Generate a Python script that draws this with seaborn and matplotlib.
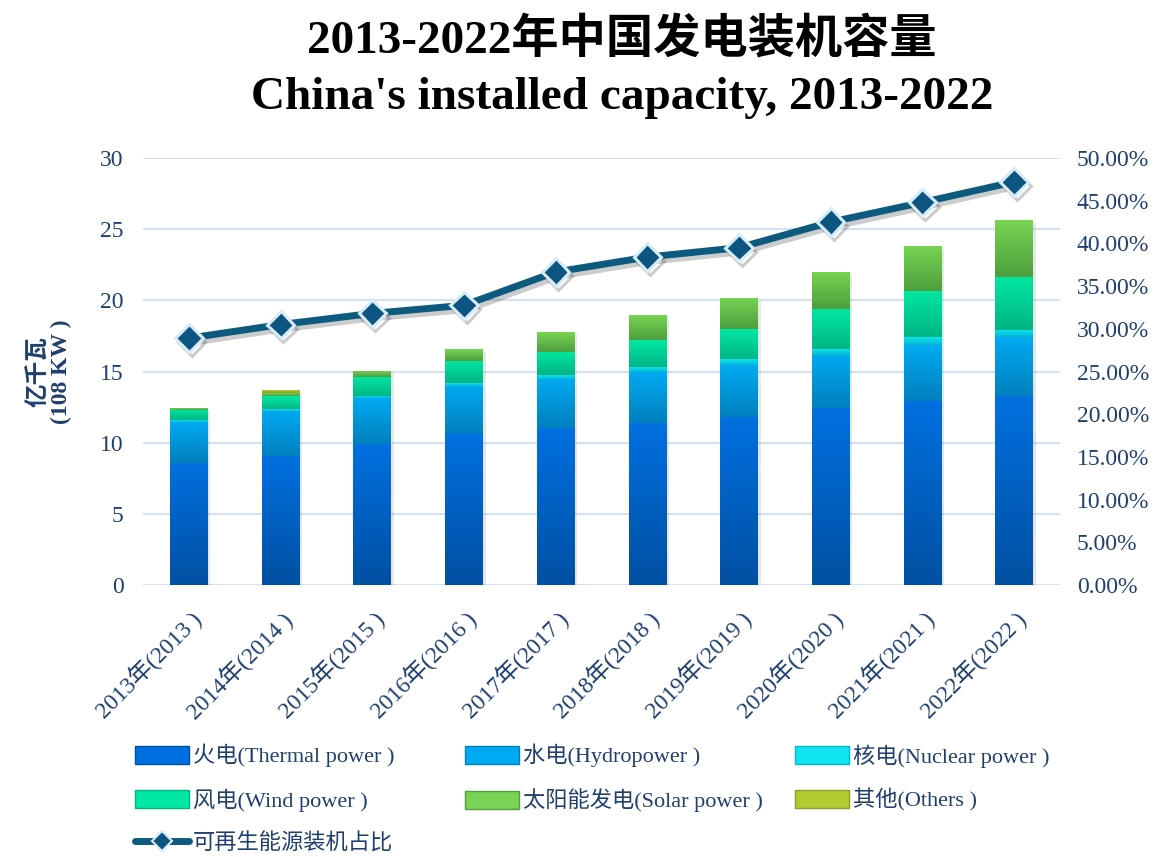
import numpy as np
import pandas as pd
import matplotlib
matplotlib.use("Agg")
import matplotlib.pyplot as plt
import matplotlib.patheffects as pe
from matplotlib.colors import LinearSegmentedColormap
from matplotlib.patches import Patch
from matplotlib.lines import Line2D
import seaborn as sns

# ---------------- data ----------------
categories = ["2013年(2013 )", "2014年(2014 )", "2015年(2015 )", "2016年(2016 )",
              "2017年(2017 )", "2018年(2018 )", "2019年(2019 )", "2020年(2020 )",
              "2021年(2021 )", "2022年(2022 )"]
thermal = [8.60, 9.09, 9.89, 10.59, 11.01, 11.41, 11.83, 12.42, 12.95, 13.28]
hydro = [2.88, 3.14, 3.23, 3.39, 3.47, 3.58, 3.65, 3.74, 3.92, 4.13]
nuclear = [0.12, 0.14, 0.16, 0.19, 0.28, 0.35, 0.42, 0.42, 0.54, 0.51]
wind = [0.72, 0.91, 1.34, 1.57, 1.64, 1.88, 2.07, 2.79, 3.27, 3.75]
solar = [0.14, 0.19, 0.44, 0.82, 1.40, 1.75, 2.18, 2.60, 3.12, 3.98]
others = [0.00, 0.21, 0.00, 0.00, 0.00, 0.00, 0.00, 0.00, 0.00, 0.00]
renew_share = [28.9, 30.5, 31.8, 32.75, 36.65, 38.4, 39.5, 42.5, 44.8, 47.2]

series_names = ["火电(Thermal power )", "水电(Hydropower )", "核电(Nuclear power )",
                "风电(Wind power )", "太阳能发电(Solar power )", "其他(Others )"]
line_name = "可再生能源装机占比"
title_cn = "2013-2022年中国发电装机容量"
title_en = "China's installed capacity, 2013-2022"
ylabel_text = "亿千瓦\n(108 KW )"
left_ticks = [0, 5, 10, 15, 20, 25, 30]
right_ticks = [0, 5, 10, 15, 20, 25, 30, 35, 40, 45, 50]

# ---------------- style ----------------
sns.set_theme(style="white")
plt.rcParams["font.family"] = ["Liberation Serif", "Noto Sans CJK SC", "DejaVu Sans"]
TXT = "#1F3F6E"

# gradient colours (top, bottom)
grads = [("#0070E0", "#0050A2"),
         ("#00AAF2", "#0080BE"),
         ("#10E4F0", "#00B8D0"),
         ("#00E8A2", "#00B484"),
         ("#78D452", "#4E9E3E"),
         ("#B0CC30", "#8AA028")]

layers = [thermal, hydro, nuclear, wind, solar, others]

fig = plt.figure(figsize=(11.53, 8.57), dpi=100)
ax = fig.add_axes([143 / 1153, 1 - 585 / 857, (1060 - 143) / 1153, (585 - 158) / 857])

df = pd.DataFrame({"cat": categories})
bottom = np.zeros(len(categories))
layer_patches = []
for vals, (ctop, cbot) in zip(layers, grads):
    df["v"] = vals
    n_before = len(ax.patches)
    sns.barplot(data=df, x="cat", y="v", ax=ax, color=cbot, width=0.41,
                bottom=bottom.copy(), errorbar=None, linewidth=0, zorder=3,
                saturation=1)
    layer_patches.append(ax.patches[n_before:])
    bottom = bottom + np.array(vals)

ax.set_xlim(-0.5, len(categories) - 0.5)
ax.set_ylim(0, 30)

# gradient fill clipped to each bar
for patches, (ctop, cbot) in zip(layer_patches, grads):
    cmap = LinearSegmentedColormap.from_list("g", [cbot, ctop])
    grad = np.linspace(0, 1, 100).reshape(-1, 1)
    for p in patches:
        x0, y0 = p.get_x(), p.get_y()
        w, h = p.get_width(), p.get_height()
        if h <= 0:
            continue
        im = ax.imshow(grad, extent=(x0, x0 + w, y0, y0 + h), origin="lower",
                       cmap=cmap, aspect="auto", zorder=3.5, interpolation="bicubic")
        im.set_clip_path(p)
        p.set_path_effects([pe.SimplePatchShadow(offset=(2, -2), alpha=0.1), pe.Normal()])

ax.set_xlim(-0.5, len(categories) - 0.5)
ax.set_ylim(0, 30)
ax.set_yticks(left_ticks)
ax.grid(axis="y", color="#D3E2F2", linewidth=1.5, zorder=0)
ax.grid(axis="x", visible=False)
for s in ax.spines.values():
    s.set_visible(False)
ax.set_xlabel("")
ax.set_ylabel("")
ax.tick_params(axis="y", labelsize=17, labelcolor=TXT, length=0, pad=14)
ax.tick_params(axis="x", length=0, pad=16)

# y-axis title
fig.text(50 / 1153, 1 - 372 / 857, ylabel_text, rotation=90, ha="center", va="center",
         fontsize=17, fontweight="bold", color=TXT, linespacing=1.0,
         multialignment="center")

# line on secondary axis
ax2 = ax.twinx()
ldf = pd.DataFrame({"cat": categories, "share": renew_share})
sns.pointplot(data=ldf, x="cat", y="share", ax=ax2, color="#0C5B7E",
              markers="D", errorbar=None, linewidth=5,
              markersize=14, markeredgecolor="#D6ECF8", markeredgewidth=2.2,
              markerfacecolor="#0C5580")
ax2.lines[0].set_path_effects([pe.SimpleLineShadow(offset=(2, -3), alpha=0.22), pe.Normal()])
ax2.set_ylim(0, 50)
ax2.set_yticks(right_ticks)
ax2.set_yticklabels([f"{t:.2f}%" for t in right_ticks])
ax2.tick_params(axis="y", labelsize=17, labelcolor=TXT, length=0, pad=12)
ax2.set_ylabel("")
ax2.set_xlabel("")
ax2.grid(False)
for s in ax2.spines.values():
    s.set_visible(False)
ax.set_xlim(-0.5, len(categories) - 0.5)
ax.set_xticks(range(len(categories)))
ax.set_xticklabels(categories, rotation=45, ha="right", rotation_mode="anchor",
                   fontsize=17, color=TXT)

# titles
fig.text(622 / 1153, 1 - 41 / 857, title_cn, ha="center", va="center", fontsize=34,
         fontweight="bold", color="black")
fig.text(622 / 1153, 1 - 98 / 857, title_en, ha="center", va="center", fontsize=34,
         fontweight="bold", color="black")

# legend (three fixed columns)
def bar_handle(i):
    return Patch(facecolor=grads[i][0], edgecolor=grads[i][1], linewidth=1)

line_handle = Line2D([], [], color="#0C5B7E", linewidth=5, marker="D",
                     markersize=10, markerfacecolor="#0C5580",
                     markeredgecolor="#D6ECF8", markeredgewidth=1.5)

cols = [([bar_handle(0), bar_handle(3), line_handle],
         [series_names[0], series_names[3], line_name], 135),
        ([bar_handle(1), bar_handle(4)], [series_names[1], series_names[4]], 465),
        ([bar_handle(2), bar_handle(5)], [series_names[2], series_names[5]], 795)]
for handles, labels, xpx in cols:
    leg = fig.legend(handles, labels, loc="upper left",
                     bbox_to_anchor=(xpx / 1153, 1 - 744 / 857),
                     frameon=False, fontsize=16, handlelength=2.45, handleheight=0.85,
                     handletextpad=0.15, labelspacing=0.95, borderaxespad=0,
                     borderpad=0)
    for t in leg.get_texts():
        t.set_color(TXT)

fig.savefig("out.png", dpi=100, facecolor="white")
